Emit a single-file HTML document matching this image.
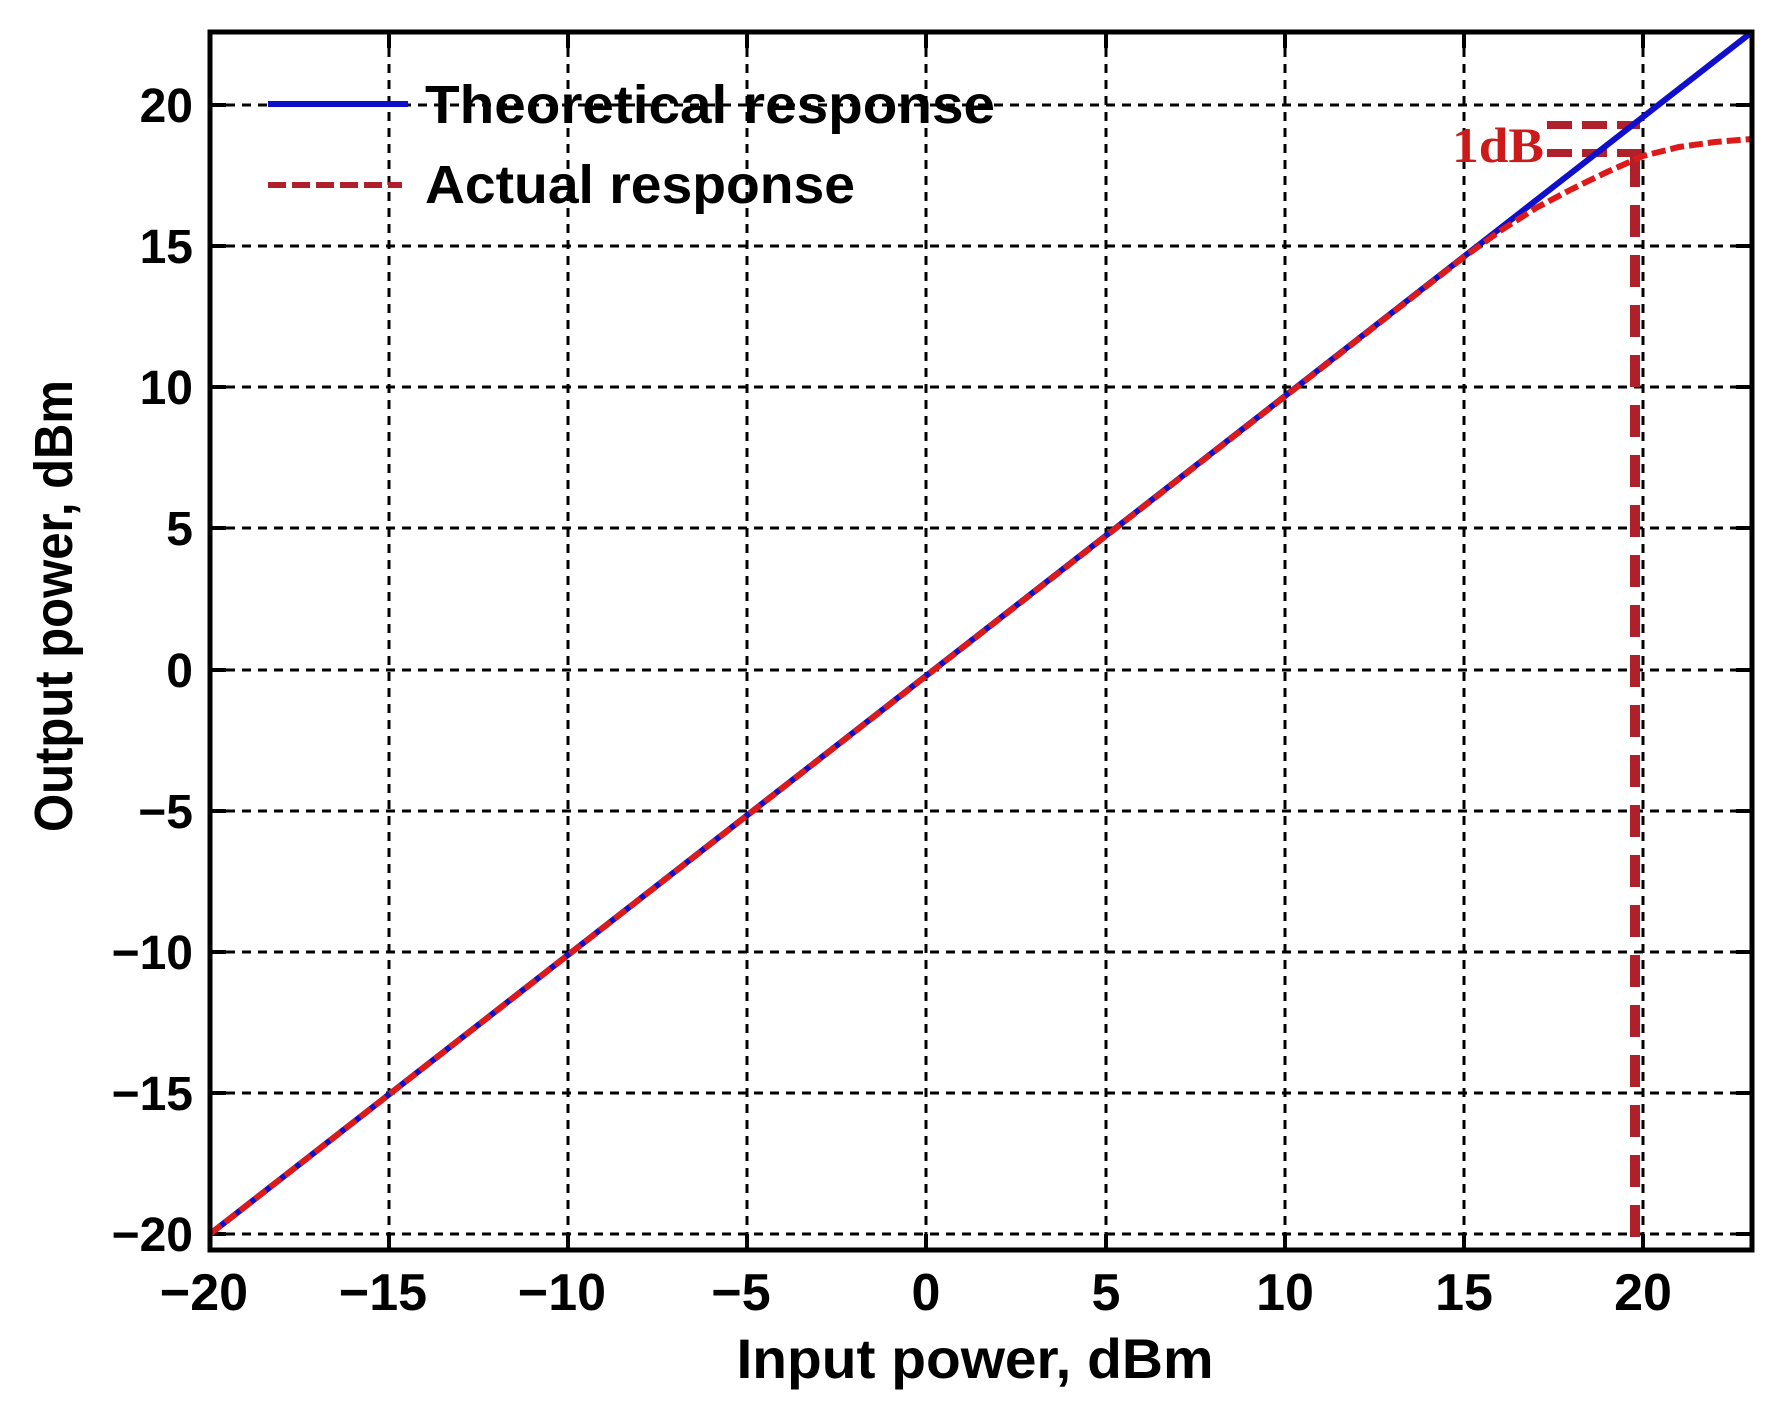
<!DOCTYPE html>
<html><head><meta charset="utf-8"><style>html,body{margin:0;padding:0;background:#fff}svg{display:block}</style></head>
<body>
<svg width="1787" height="1422" viewBox="0 0 1787 1422" xmlns="http://www.w3.org/2000/svg" font-family="Liberation Sans, Arial, sans-serif" font-weight="bold">
<rect width="1787" height="1422" fill="#fff"/>
<g stroke="#000" stroke-width="3" stroke-dasharray="9,7" fill="none">
<line x1="389" y1="32" x2="389" y2="1250"/>
<line x1="568" y1="32" x2="568" y2="1250"/>
<line x1="747" y1="32" x2="747" y2="1250"/>
<line x1="926" y1="32" x2="926" y2="1250"/>
<line x1="1106" y1="32" x2="1106" y2="1250"/>
<line x1="1285" y1="32" x2="1285" y2="1250"/>
<line x1="1464" y1="32" x2="1464" y2="1250"/>
<line x1="1643" y1="32" x2="1643" y2="1250"/>
<line x1="210" y1="1234" x2="1752" y2="1234"/>
<line x1="210" y1="1093" x2="1752" y2="1093"/>
<line x1="210" y1="952" x2="1752" y2="952"/>
<line x1="210" y1="811" x2="1752" y2="811"/>
<line x1="210" y1="670" x2="1752" y2="670"/>
<line x1="210" y1="528" x2="1752" y2="528"/>
<line x1="210" y1="387" x2="1752" y2="387"/>
<line x1="210" y1="246" x2="1752" y2="246"/>
<line x1="210" y1="105" x2="1752" y2="105"/>
</g>
<g stroke="#000" stroke-width="4">
<path d="M389 1250v-16M568 1250v-16M747 1250v-16M926 1250v-16M1106 1250v-16M1285 1250v-16M1464 1250v-16M1643 1250v-16"/>
<path d="M389 32v16M568 32v16M747 32v16M926 32v16M1106 32v16M1285 32v16M1464 32v16M1643 32v16"/>
<path d="M210 1234h16M210 1093h16M210 952h16M210 811h16M210 670h16M210 528h16M210 387h16M210 246h16M210 105h16"/>
<path d="M1752 1234h-16M1752 1093h-16M1752 952h-16M1752 811h-16M1752 670h-16M1752 528h-16M1752 387h-16M1752 246h-16M1752 105h-16"/>
</g>
<g stroke="#b0202a" stroke-width="8" stroke-dasharray="25,10" fill="none">
<line x1="1547" y1="125" x2="1640" y2="125"/>
<line x1="1547" y1="153" x2="1648" y2="153"/>
</g>
<line x1="1635" y1="155" x2="1635" y2="1250" stroke="#b0202a" stroke-width="10" stroke-dasharray="32,18"/>
<text x="1452" y="162" font-family="Liberation Serif, serif" font-size="50" fill="#cc1a1a" textLength="92" lengthAdjust="spacingAndGlyphs">1dB</text>
<line x1="210" y1="1234" x2="1752" y2="32" stroke="#1010cc" stroke-width="6"/>
<polyline fill="none" stroke="#dd1a1a" stroke-width="6" stroke-dasharray="14,5" points="210,1234 1464,257 1500,231 1536,208 1572,189 1607,172 1643,156 1679,147 1715,142 1752,139"/>
<rect x="210" y="32" width="1542" height="1218" fill="none" stroke="#000" stroke-width="5"/>
<line x1="268" y1="104" x2="408" y2="104" stroke="#1010cc" stroke-width="6"/>
<line x1="268" y1="185" x2="402" y2="185" stroke="#b0202a" stroke-width="6" stroke-dasharray="18,6"/>
<text x="425" y="123" font-size="54" textLength="570" lengthAdjust="spacingAndGlyphs">Theoretical response</text>
<text x="425" y="203" font-size="54" textLength="430" lengthAdjust="spacingAndGlyphs">Actual response</text>
<g font-size="52" text-anchor="middle">
<text x="204" y="1310">−20</text>
<text x="383" y="1310">−15</text>
<text x="562" y="1310">−10</text>
<text x="741" y="1310">−5</text>
<text x="926" y="1310">0</text>
<text x="1106" y="1310">5</text>
<text x="1285" y="1310">10</text>
<text x="1464" y="1310">15</text>
<text x="1643" y="1310">20</text>
</g>
<g font-size="48" text-anchor="end">
<text x="193" y="1251">−20</text>
<text x="193" y="1110">−15</text>
<text x="193" y="969">−10</text>
<text x="193" y="828">−5</text>
<text x="193" y="687">0</text>
<text x="193" y="545">5</text>
<text x="193" y="404">10</text>
<text x="193" y="263">15</text>
<text x="193" y="122">20</text>
</g>
<text x="975" y="1378" font-size="56" text-anchor="middle" textLength="477" lengthAdjust="spacingAndGlyphs">Input power, dBm</text>
<text transform="translate(72,606) rotate(-90)" font-size="54" text-anchor="middle" textLength="452" lengthAdjust="spacingAndGlyphs">Output power, dBm</text>
</svg>
</body></html>
